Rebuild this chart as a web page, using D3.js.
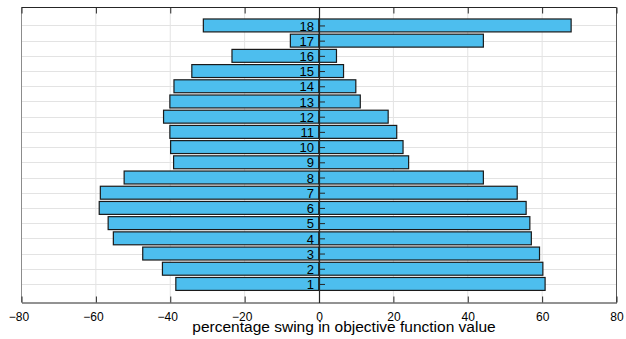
<!DOCTYPE html>
<html>
<head>
<meta charset="utf-8">
<script src="https://cdn.jsdelivr.net/npm/d3@7"></script>
<style>
  html, body { margin: 0; padding: 0; background: #fff; }
  svg { display: block; font-family: "Liberation Sans", Arial, Helvetica, sans-serif; }
</style>
</head>
<body>
<svg id="chart" width="626" height="339"></svg>
<script>
// ---- data ----
const categories = [1, 2, 3, 4, 5, 6, 7, 8, 9, 10, 11, 12, 13, 14, 15, 16, 17, 18];
const negativeSwing = [-38.5, -42.1, -47.4, -55.3, -56.7, -59.1, -58.8, -52.4, -39.1, -39.9, -40.1, -41.8, -40.1, -39.0, -34.2, -23.4, -7.7, -31.1];
const positiveSwing = [60.8, 60.2, 59.3, 57.1, 56.7, 55.7, 53.3, 44.2, 24.1, 22.6, 20.9, 18.6, 11.1, 9.9, 6.6, 4.7, 44.2, 67.8];
const xTicks = [-80, -60, -40, -20, 0, 20, 40, 60, 80];
const xLabel = "percentage swing in objective function value";

// ---- layout ----
const svg = d3.select("#chart");
const L = 21.5, R = 616.5, T = 7.5, B = 302.5;
const x = d3.scaleLinear().domain([-80, 80]).range([L, R]);
const y = d3.scaleLinear().domain([-0.22, 19.18]).range([B, T]);
const barH = 0.85;
const gridColor = "#e3e3e3";
const axisColor = "#262626";

// gridlines
svg.append("g").selectAll("line").data(xTicks.filter(d => d !== -80 && d !== 80 && d !== 0))
  .join("line")
  .attr("x1", d => x(d)).attr("x2", d => x(d))
  .attr("y1", T).attr("y2", B)
  .attr("stroke", gridColor).attr("stroke-width", 1);
svg.append("g").selectAll("line").data(categories)
  .join("line")
  .attr("x1", L).attr("x2", R)
  .attr("y1", d => Math.round(y(d)) + 0.5).attr("y2", d => Math.round(y(d)) + 0.5)
  .attr("stroke", gridColor).attr("stroke-width", 1);

// bars
const bars = svg.append("g");
function drawBars(vals) {
  bars.append("g").selectAll("rect").data(categories.map((c, i) => ({ c, v: vals[i] })))
    .join("rect")
    .attr("x", d => x(Math.min(0, d.v)))
    .attr("width", d => Math.abs(x(d.v) - x(0)))
    .attr("y", d => y(d.c + barH / 2))
    .attr("height", d => y(d.c - barH / 2) - y(d.c + barH / 2))
    .attr("fill", "#4DBEEE")
    .attr("stroke", "#1a1a1a")
    .attr("stroke-width", 1.2);
}
drawBars(negativeSwing);
drawBars(positiveSwing);

// frame
svg.append("line").attr("x1", L).attr("x2", L).attr("y1", T).attr("y2", B).attr("stroke", "#8c8c8c");
svg.append("line").attr("x1", R).attr("x2", R).attr("y1", T).attr("y2", B).attr("stroke", "#555");
svg.append("line").attr("x1", L).attr("x2", R).attr("y1", T).attr("y2", T).attr("stroke", axisColor);

// bottom axis
const xAxis = d3.axisBottom(x).tickValues(xTicks).tickSizeInner(-6).tickSizeOuter(0).tickPadding(10)
  .tickFormat(d3.format("d"));
const gx = svg.append("g").attr("transform", `translate(0,${B})`).call(xAxis);
gx.select(".domain").attr("stroke", axisColor);
gx.selectAll(".tick line").attr("stroke", axisColor);
gx.selectAll(".tick text").attr("font-size", 12).attr("fill", "#000")
  .attr("font-family", "Liberation Sans, Arial, sans-serif")
  .attr("dx", d => d < 0 ? -3 : 0);

// top ticks
const xTop = d3.axisTop(x).tickValues(xTicks).tickSizeInner(-6).tickSizeOuter(0).tickFormat("");
const gt = svg.append("g").attr("transform", `translate(0,${T})`).call(xTop);
gt.select(".domain").remove();
gt.selectAll(".tick line").attr("stroke", axisColor);

// zero line with category ticks and labels
const yAxis = d3.axisLeft(y).tickValues(categories).tickSizeInner(-6).tickSizeOuter(0).tickPadding(5)
  .tickFormat(d3.format("d"));
const gy = svg.append("g").attr("transform", `translate(${x(0)},0)`).call(yAxis);
gy.select(".domain").attr("stroke", axisColor).attr("stroke-width", 1.2);
gy.selectAll(".tick line").attr("stroke", axisColor);
gy.selectAll(".tick text").attr("font-size", 13).attr("fill", "#000")
  .attr("font-family", "Liberation Sans, Arial, sans-serif")
  .attr("dy", "0.36em");

// x label
svg.append("text")
  .attr("x", 344).attr("y", 332)
  .attr("text-anchor", "middle")
  .attr("font-size", 15.5)
  .attr("fill", "#000")
  .text(xLabel);
</script>
</body>
</html>
